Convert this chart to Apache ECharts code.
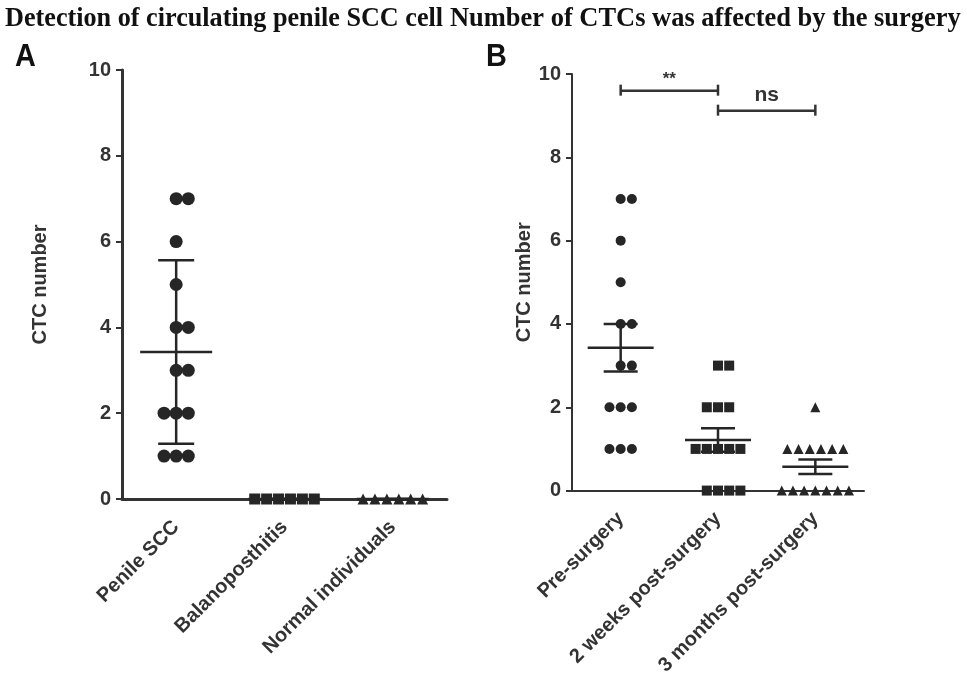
<!DOCTYPE html>
<html>
<head>
<meta charset="utf-8">
<script src="https://cdn.jsdelivr.net/npm/echarts@6/dist/echarts.min.js"></script>
<style>
  html, body { margin: 0; padding: 0; background: #fff; }
  #chart { width: 967px; height: 678px; }
</style>
</head>
<body>
<div id="chart"></div>
<script>
// categories
const groupsA = ['Penile SCC', 'Balanoposthitis', 'Normal individuals'];
const groupsB = ['Pre-surgery', '2 weeks post-surgery', '3 months post-surgery'];

// CTC counts per subject
const penileSCC = [7, 7, 6, 5, 4, 4, 3, 3, 2, 2, 2, 1, 1, 1];
const balanoposthitis = [0, 0, 0, 0, 0, 0];
const normalIndividuals = [0, 0, 0, 0, 0, 0];
const preSurgery = [7, 7, 6, 5, 4, 4, 3, 3, 2, 2, 2, 1, 1, 1];
const weeks2Post = [3, 3, 2, 2, 2, 1, 1, 1, 1, 1, 0, 0, 0, 0];
const months3Post = [2, 1, 1, 1, 1, 1, 1, 0, 0, 0, 0, 0, 0, 0];

// y axis ticks
const yMin = 0, yMax = 10, yStep = 2;

// significance brackets: from group, to group, level, label
const brackets = [
  [0, 1, 9.6, '**'],
  [1, 2, 9.12, 'ns']
];

const ink = '#262626';
const axisInk = '#333';
const sans = 'Liberation Sans, Arial, sans-serif';

// spread equal values side by side like a column scatter
function spread(vals, idx, step) {
  const counts = {}, seen = {};
  vals.forEach(v => counts[v] = (counts[v] || 0) + 1);
  return vals.map(v => {
    const n = counts[v];
    const k = seen[v] = (seen[v] === undefined ? 0 : seen[v] + 1);
    const off = (n % 2 || n >= 6) ? k - (n - 1) / 2 : k - (n / 2 - 1);
    return [idx + off * step, v];
  });
}

function stats(vals) {
  const n = vals.length;
  const m = vals.reduce((a, b) => a + b, 0) / n;
  const sd = n > 1 ? Math.sqrt(vals.reduce((a, b) => a + (b - m) * (b - m), 0) / (n - 1)) : 0;
  return { m, sd, sem: sd / Math.sqrt(n) };
}

function errBars(axisIdx, groups, useSem, meanHalf, capHalf) {
  const data = groups.map((g, i) => {
    const s = stats(g);
    const e = useSem ? s.sem : s.sd;
    return [i, s.m, s.m - e, s.m + e];
  });
  return {
    type: 'custom',
    xAxisIndex: axisIdx * 2 + 1,
    yAxisIndex: axisIdx,
    z: 3,
    silent: true,
    renderItem: function (params, api) {
      const x = api.value(0);
      const pm = api.coord([x, api.value(1)]);
      const pl = api.coord([x, api.value(2)]);
      const ph = api.coord([x, api.value(3)]);
      const st = { stroke: ink, lineWidth: 2.5 };
      return {
        type: 'group',
        children: [
          { type: 'line', shape: { x1: pm[0] - meanHalf, y1: pm[1], x2: pm[0] + meanHalf, y2: pm[1] }, style: st },
          { type: 'line', shape: { x1: pl[0], y1: pl[1], x2: ph[0], y2: ph[1] }, style: st },
          { type: 'line', shape: { x1: pl[0] - capHalf, y1: pl[1], x2: pl[0] + capHalf, y2: pl[1] }, style: st },
          { type: 'line', shape: { x1: ph[0] - capHalf, y1: ph[1], x2: ph[0] + capHalf, y2: ph[1] }, style: st }
        ]
      };
    },
    data: data
  };
}

function dots(axisIdx, groups, shapes, sizes, steps) {
  return groups.map((g, i) => ({
    type: 'scatter',
    xAxisIndex: axisIdx * 2 + 1,
    yAxisIndex: axisIdx,
    symbol: shapes[i],
    symbolSize: sizes[i],
    itemStyle: { color: ink, opacity: 1 },
    z: 4,
    silent: true,
    data: spread(g, i, steps[i])
  }));
}

function catAxis(gridIndex, cats, lineW) {
  return {
    type: 'category', gridIndex: gridIndex, data: cats, boundaryGap: true,
    axisLine: { onZero: false, lineStyle: { color: axisInk, width: lineW } },
    axisTick: { alignWithLabel: true, length: 6, lineStyle: { color: axisInk, width: 2 } },
    axisLabel: { rotate: 45, margin: 25, color: axisInk, fontSize: 20, fontWeight: 'bold', fontFamily: sans, interval: 0 }
  };
}

function hiddenX(gridIndex) {
  return { type: 'value', gridIndex: gridIndex, min: -0.5, max: 2.5, show: false };
}

function valAxis(gridIndex, lineW, gap) {
  return {
    type: 'value', gridIndex: gridIndex, min: yMin, max: yMax, interval: yStep,
    name: 'CTC number', nameLocation: 'middle', nameGap: gap, nameRotate: 90,
    nameTextStyle: { color: axisInk, fontSize: 20, fontWeight: 'bold', fontFamily: sans },
    axisLine: { show: true, onZero: false, lineStyle: { color: axisInk, width: lineW } },
    axisTick: { show: true, length: 6, lineStyle: { color: axisInk, width: 2 } },
    splitLine: { show: false },
    axisLabel: { margin: 11, color: axisInk, fontSize: 20, fontWeight: 'bold', fontFamily: sans }
  };
}

const bracketSeries = {
  type: 'custom',
  xAxisIndex: 3,
  yAxisIndex: 1,
  z: 5,
  silent: true,
  renderItem: function (params, api) {
    const a = api.coord([api.value(0), api.value(2)]);
    const b = api.coord([api.value(1), api.value(2)]);
    const lab = brackets[params.dataIndex][3];
    const st = { stroke: axisInk, lineWidth: 2.5 };
    const star = lab === '**';
    return {
      type: 'group',
      children: [
        { type: 'line', shape: { x1: a[0], y1: a[1], x2: b[0], y2: b[1] }, style: st },
        { type: 'line', shape: { x1: a[0], y1: a[1] - 6, x2: a[0], y2: a[1] + 5 }, style: st },
        { type: 'line', shape: { x1: b[0], y1: b[1] - 6, x2: b[0], y2: b[1] + 5 }, style: st },
        {
          type: 'text', x: (a[0] + b[0]) / 2, y: a[1] - (star ? 3 : 5),
          style: {
            text: lab, fill: axisInk, align: 'center', verticalAlign: 'bottom',
            font: 'bold ' + (star ? 17 : 21) + 'px ' + sans
          }
        }
      ]
    };
  },
  data: brackets.map(b => [b[0], b[1], b[2]])
};

const chart = echarts.init(document.getElementById('chart'));
chart.setOption({
  animation: false,
  backgroundColor: '#fff',
  graphic: [
    { type: 'text', left: 5, top: 6, scaleX: 0.97, style: { text: 'Detection of circulating penile SCC cell', fill: '#111', font: 'bold 27px Liberation Serif, Times New Roman, serif' } },
    { type: 'text', left: 450, top: 6, scaleX: 0.98, style: { text: 'Number of CTCs was affected by the surgery', fill: '#111', font: 'bold 27px Liberation Serif, Times New Roman, serif' } },
    { type: 'text', left: 15, top: 41, scaleX: 0.9, style: { text: 'A', fill: '#111', font: 'bold 32px ' + sans } },
    { type: 'text', left: 486, top: 41, scaleX: 0.9, style: { text: 'B', fill: '#111', font: 'bold 32px ' + sans } }
  ],
  grid: [
    { left: 122, right: 520, top: 70, bottom: 179, containLabel: false },
    { left: 572, right: 103, top: 74, bottom: 186, containLabel: false }
  ],
  xAxis: [catAxis(0, groupsA, 3), hiddenX(0), catAxis(1, groupsB, 2), hiddenX(1)],
  yAxis: [valAxis(0, 3, 72), valAxis(1, 2, 27)],
  series: [
    ...dots(0, [penileSCC, balanoposthitis, normalIndividuals], ['circle', 'rect', 'triangle'], [13, 11, 11], [0.112, 0.11, 0.11]),
    errBars(0, [penileSCC, balanoposthitis, normalIndividuals], false, 36, 18),
    ...dots(1, [preSurgery, weeks2Post, months3Post], ['circle', 'rect', 'triangle'], [10, 10, 10], [0.115, 0.115, 0.115]),
    errBars(1, [preSurgery, weeks2Post, months3Post], true, 33, 17),
    bracketSeries
  ]
});
</script>
</body>
</html>
